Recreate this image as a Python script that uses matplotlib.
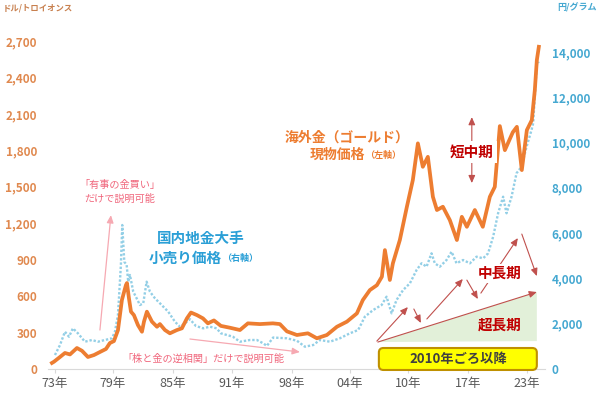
import matplotlib.pyplot as plt
from matplotlib.patches import Polygon, FancyBboxPatch

plt.rcParams['font.family'] = ['Noto Sans CJK JP', 'DejaVu Sans']

# 海外金 現物価格 (ドル/トロイオンス)
gold_year = [1971.81, 1972.03, 1972.69, 1973.23, 1973.78, 1974.54, 1975.09, 1975.74, 1976.40,
             1977.05, 1977.71, 1978.14, 1978.58, 1979.02, 1979.45, 1979.89, 1980.00, 1980.22,
             1980.44, 1980.76, 1981.20, 1981.64, 1981.86, 1982.18, 1982.73, 1983.28, 1983.60,
             1984.15, 1984.69, 1985.46, 1986.00, 1986.55, 1986.99, 1987.64, 1988.30, 1988.84,
             1989.50, 1990.26, 1991.24, 1992.34, 1993.21, 1994.52, 1995.94, 1996.70, 1997.47,
             1998.56, 1999.76, 2000.74, 2001.83, 2002.93, 2004.02, 2005.11, 2005.76, 2006.53,
             2007.29, 2007.84, 2008.17, 2008.71, 2009.04, 2009.80, 2010.57, 2011.22, 2011.77,
             2012.31, 2012.86, 2013.41, 2013.85, 2014.50, 2015.26, 2016.03, 2016.57, 2017.12,
             2017.99, 2018.86, 2019.63, 2020.17, 2020.72, 2021.27, 2022.14, 2022.58, 2023.12,
             2023.67, 2024.21, 2024.54, 2024.76, 2024.98]
gold_usd = [50, 60, 99, 132, 120, 173, 150, 99, 115,
            140, 165, 214, 230, 320, 568, 691, 708, 582,
            472, 444, 362, 307, 390, 472, 390, 348, 370,
            321, 294, 321, 335, 417, 465, 444, 417, 376,
            400, 355, 340, 321, 376, 370, 376, 370, 310,
            280, 294, 253, 280, 348, 390, 458, 568, 650,
            690, 760, 979, 733, 870, 1062, 1336, 1556, 1858,
            1665, 1747, 1418, 1309, 1336, 1226, 1062, 1253, 1171,
            1309, 1171, 1418, 1500, 2000, 1802, 1950, 1994, 1638,
            1967, 2049, 2296, 2543, 2653]

# 国内地金大手 小売り価格 (円/グラム)
retail_year = [1972.14, 1972.69, 1973.23, 1973.67, 1974.10, 1974.65, 1975.41, 1976.18, 1976.83,
               1977.60, 1978.36, 1978.69, 1979.02, 1979.34, 1979.49, 1979.71, 1979.97, 1980.14,
               1980.33, 1980.69, 1981.06, 1981.42, 1981.78, 1982.15, 1982.51, 1983.06, 1983.79,
               1984.51, 1985.24, 1985.79, 1986.33, 1986.88, 1987.53, 1988.33, 1989.06, 1989.79,
               1990.26, 1990.92, 1991.57, 1992.34, 1993.43, 1994.19, 1994.88, 1995.28, 1995.97,
               1997.47, 1998.56, 1999.43, 2000.34, 2001.07, 2002.16, 2003.25, 2004.34, 2005.25,
               2005.98, 2006.89, 2007.81, 2008.35, 2008.90, 2009.44, 2010.16, 2010.90, 2011.63,
               2012.17, 2012.72, 2013.26, 2013.62, 2014.17, 2014.90, 2015.45, 2015.99, 2016.71,
               2017.45, 2018.18, 2018.90, 2019.44, 2019.99, 2020.53, 2021.08, 2021.45, 2022.00,
               2022.54, 2023.09, 2023.64, 2024.18, 2024.36, 2024.65, 2024.80, 2024.95]
retail_yen = [618, 1060, 1647, 1426, 1797, 1576, 1206, 1281, 1206,
              1281, 1356, 1647, 2385, 4593, 6359, 4738, 4593, 3855,
              4151, 3414, 3122, 2826, 2900, 3855, 3414, 3122, 2826,
              2530, 2089, 1868, 2018, 2200, 1900, 1797, 1868, 1797,
              1576, 1501, 1426, 1206, 1281, 1281, 1135, 1020, 1390,
              1356, 1250, 985, 1060, 1281, 1206, 1356, 1576, 1722,
              2310, 2605, 2826, 3193, 2460, 3047, 3489, 3784, 4372,
              4668, 4518, 5109, 4668, 4518, 4813, 5180, 4668, 4813,
              4668, 4959, 4888, 5109, 5842, 6876, 7609, 6876, 7609,
              8642, 8934, 9817, 10554, 10850, 12762, 13645, 13500]

tick_years = [1972.14, 1978.47, 1985.02, 1991.46, 1998.01, 2004.34, 2010.68, 2017.23, 2023.67]
tick_labels = ['73年', '79年', '85年', '91年', '98年', '04年', '10年', '17年', '23年']
usd_ticks = list(range(0, 2701, 300))
yen_ticks = list(range(0, 14001, 2000))

orange = '#ED7D31'
blue_line = '#93CFE6'
dark_red = '#C00000'
pink = '#F0667C'

fig = plt.figure(figsize=(6, 3.97), dpi=100)
ax = fig.add_axes([0.08, 0.0705, 0.828, 0.826])
ax2 = ax.twinx()
ax.set_zorder(ax2.get_zorder() + 1)
ax.patch.set_visible(False)

ax2.plot(retail_year, retail_yen, color=blue_line, lw=1.7, ls=(0, (1, 0.8)))
ax.plot(gold_year, gold_usd, color=orange, lw=2.7)

ax.set_xlim(1971.38, 2025.63)
ax.set_ylim(0, 2700)
ax2.set_ylim(0, 14480)

ax.set_xticks(tick_years, labels=tick_labels)
ax.tick_params(axis='x', colors='#D9D9D9', labelcolor='#595959', length=3, labelsize=9, pad=3)
ax.set_yticks(usd_ticks, labels=[f'{v:,}' for v in usd_ticks], fontweight='bold')
ax.tick_params(axis='y', length=0, labelcolor='#E0894F', labelsize=8.5, pad=8)
ax2.set_yticks(yen_ticks, labels=[f'{v:,}' for v in yen_ticks], fontweight='bold')
ax2.tick_params(axis='y', length=0, labelcolor='#45A8D1', labelsize=8.5, pad=5)

for s in ['left', 'right', 'top']:
    ax.spines[s].set_visible(False)
for s in ax2.spines.values():
    s.set_visible(False)
ax.spines['bottom'].set_color('#D9D9D9')

fig.text(0.005, 0.98, 'ドル/トロイオンス', color='#C8804F', fontsize=6, va='center', fontweight='bold')
fig.text(0.995, 0.98, '円/グラム', color='#45A8D1', fontsize=6.5, va='center', ha='right', fontweight='bold')

# series labels
ax.text(2004.02, 1909, '海外金（ゴールド）', color=orange, fontsize=10, fontweight='bold', ha='center', va='center')
ax.text(2005.98, 1761, '現物価格', color=orange, fontsize=10, fontweight='bold', ha='right', va='center')
ax.text(2005.98, 1761, '（左軸）', color=orange, fontsize=6.5, fontweight='bold', ha='left', va='center')
ax.text(1988.08, 1078, '国内地金大手', color='#2A9FD6', fontsize=10.5, fontweight='bold', ha='center', va='center')
ax.text(1990.37, 914, '小売り価格', color='#2A9FD6', fontsize=10.5, fontweight='bold', ha='right', va='center')
ax.text(1990.37, 914, '（右軸）', color='#2A9FD6', fontsize=6.5, fontweight='bold', ha='left', va='center')


def arrow(x0, y0, x1, y1, color, lw=0.9, style='-|>,head_length=0.45,head_width=0.2'):
    ax.annotate('', xy=(x1, y1), xytext=(x0, y0),
                arrowprops=dict(arrowstyle=style, color=color, lw=lw, shrinkA=0, shrinkB=0))


# pink notes
ax.text(1979.24, 1457, '「有事の金買い」\nだけで説明可能', color=pink, fontsize=7.3, ha='center', va='center',
        linespacing=1.4)
arrow(1977.05, 321, 1978.25, 1267, '#F6A9B2')
ax.text(1988.30, 82, '「株と金の逆相関」だけで説明可能', color=pink, fontsize=7.3, ha='center', va='center')
arrow(1986.88, 247, 1998.89, 140, '#F6A9B2')

# 超長期 triangle
ax.add_patch(Polygon([(2007.40, 222), (2024.76, 634), (2024.76, 230)], closed=True,
                     facecolor='#E2F0D9', edgecolor='none'))
arrow(2007.40, 222, 2024.76, 634, '#C0504D', lw=0.8)
ax.text(2020.72, 362, '超長期', color=dark_red, fontsize=10.5, fontweight='bold', ha='center', va='center')

# 中長期 zigzag
for x0, y0, x1, y1 in [(2007.29, 230, 2010.68, 510), (2011.33, 494, 2012.10, 379),
                       (2012.75, 412, 2016.68, 741), (2017.12, 732, 2018.32, 576),
                       (2018.65, 625, 2022.69, 1078), (2023.12, 1111, 2024.76, 765)]:
    arrow(x0, y0, x1, y1, '#C0504D', lw=0.8)
ax.text(2020.72, 790, '中長期', color=dark_red, fontsize=10.5, fontweight='bold', ha='center', va='center',
        bbox=dict(facecolor='white', edgecolor='none', pad=1))

# 短中期
arrow(2017.66, 1786, 2017.66, 2074, '#C0504D', lw=0.8)
arrow(2017.66, 1786, 2017.66, 1531, '#C0504D', lw=0.8)
ax.text(2017.66, 1786, '短中期', color=dark_red, fontsize=10.5, fontweight='bold', ha='center', va='center',
        bbox=dict(facecolor='white', edgecolor='none', pad=2))

# 2010年ごろ以降 box
ax.add_patch(FancyBboxPatch((2007.51, -8), 17.25, 181, boxstyle='round,pad=0,rounding_size=0.5',
                            mutation_aspect=75, facecolor='#FFFF00', edgecolor='#BF9000', lw=1.5,
                            clip_on=False, zorder=3))
ax.text(2016.14, 82, '2010年ごろ以降', color='#404040', fontsize=9.5, fontweight='bold', ha='center',
        va='center', zorder=4)

fig.savefig('out.png', dpi=100)
